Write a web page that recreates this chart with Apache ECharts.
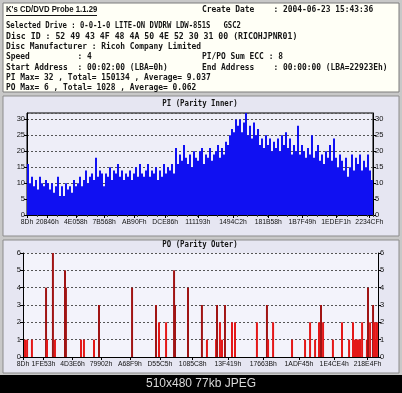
<!DOCTYPE html>
<html>
<head>
<meta charset="utf-8">
<title>K's CD/DVD Probe 1.1.29</title>
<script src="https://cdn.jsdelivr.net/npm/echarts@6/dist/echarts.min.js"></script>
<style>
html, body { margin: 0; padding: 0; background: #c8c8c8; }
#chart { width: 402px; height: 393px; }
</style>
</head>
<body>
<div id="chart"></div>
<script>
// PI (Parity Inner), one value for every ~2px column of the scan
var piValues = [
  16, 10, 12, 9, 11,   8, 12, 10, 9, 11,   10, 8, 10, 7, 9,   12, 6, 9, 6, 10,
  8, 9, 7, 11, 9,      10, 12, 9, 11, 14,  10, 12, 13, 11, 18, 12, 14, 13, 9, 13,
  12, 15, 11, 14, 13,  16, 12, 14, 11, 13, 12, 14, 11, 13, 15, 12, 16, 13, 12, 14,
  16, 12, 14, 13, 15,  11, 14, 12, 16, 13, 15, 14, 16, 13, 21, 16, 19, 17, 22, 18,
  16, 19, 15, 20, 18,  17, 20, 21, 16, 19, 18, 21, 17, 19, 20, 22, 18, 21, 19, 23,
  22, 25, 27, 26, 30,  28, 30, 26, 29, 32, 25, 28, 24, 29, 25, 27, 22, 24, 21, 25,
  22, 24, 20, 23, 21,  24, 20, 25, 22, 26, 21, 24, 19, 22, 20, 28, 19, 22, 20, 18,
  21, 19, 25, 18, 20,  22, 17, 19, 16, 20, 18, 22, 17, 24, 18, 15, 19, 17, 14, 18,
  12, 15, 19, 14, 18,  16, 19, 14, 17, 15, 19, 14, 11
];
var piTicks = [0x8D, 0x20846, 0x4E058, 0x7B568, 0xAB90F, 0xDCE86,
               0x111193, 0x1494C2, 0x181B58, 0x1B7F49, 0x1EDEF1, 0x2234CF];

// PO (Parity Outer) spikes: position in thousands of LBA, and count
var poPos = [13, 26, 57, 147, 153, 191, 204, 268, 274, 370, 389, 453, 485, 696,
             849, 868, 913, 964, 970, 1053, 1142, 1174, 1232, 1238, 1257, 1270,
             1289, 1334, 1353, 1493, 1557, 1564, 1596, 1717, 1800, 1832, 1864,
             1889, 1902, 1915, 1978, 2036, 2081, 2106, 2119, 2125, 2132, 2138,
             2144, 2151, 2164, 2195, 2202, 2215, 2234, 2240, 2246, 2253, 2259];
var poVal = [1, 1, 1, 4, 1, 6, 1, 5, 4, 1, 1, 1, 3, 4,
             3, 2, 2, 5, 3, 4, 3, 1, 1, 3, 2, 1,
             3, 2, 2, 2, 3, 1, 2, 1, 1, 2, 1,
             2, 3, 2, 1, 2, 1, 2, 1, 1, 1, 1,
             1, 1, 2, 1, 4, 2, 3, 2, 2, 1, 2];
var poTicks = [0x8D, 0x1FE53, 0x4D3E6, 0x79902, 0xA68F9, 0xD55C5,
               0x1085C8, 0x13F419, 0x17663B, 0x1ADF45, 0x1E4CE4, 0x218E4F];
var lbaEnd = 0x22923E;

var headLeft = [
  'Selected Drive : 0-0-1-0 LITE-ON DVDRW LDW-851S   GSC2',
  'Disc ID : 52 49 43 4F 48 4A 50 4E 52 30 31 00 (RICOHJPNR01)',
  'Disc Manufacturer : Ricoh Company Limited',
  'Speed          : 4',
  'Start Address  : 00:02:00 (LBA=0h)',
  'PI Max= 32 , Total= 150134 , Average= 9.037',
  'PO Max= 6 , Total= 1028 , Average= 0.062'
];
var headRows = [26, 37, 47, 57, 68, 78, 88];
// the original font is proportional; squeeze each line to its width
var headScale = [0.85, 0.965, 0.93, 0.93, 0.93, 0.93, 0.93];

var myChart = echarts.init(document.getElementById('chart'));

function hexLabel(v) {
  return v.toString(16).toUpperCase() + 'h';
}
function monoText(str, x, y, sx) {
  return {
    type: 'text', x: x, y: y, scaleX: sx || 0.93, z: 10,
    style: { text: str, font: 'bold 8.5px "DejaVu Sans Mono"', fill: '#141414',
             align: 'left', verticalAlign: 'middle', textAlign: 'left', textVerticalAlign: 'middle' }
  };
}

var els = [
  { type: 'rect', z: -10, shape: { x: 3, y: 3, width: 396, height: 89 }, style: { fill: '#fffff6', stroke: '#7c7c7c', lineWidth: 1 } },
  { type: 'rect', z: -10, shape: { x: 3, y: 96, width: 396, height: 140 }, style: { fill: '#e6e6f2', stroke: '#8c8c8c', lineWidth: 1 } },
  { type: 'rect', z: -10, shape: { x: 3, y: 240, width: 396, height: 133 }, style: { fill: '#e6e6f2', stroke: '#8c8c8c', lineWidth: 1 } },
  { type: 'rect', z: -10, shape: { x: 0, y: 375, width: 402, height: 18 }, style: { fill: '#000' } },
  { type: 'text', x: 6, y: 10, scaleX: 0.86, z: 10,
    style: { text: "K's CD/DVD Probe 1.1.29", font: 'bold 9px "Liberation Sans"', fill: '#141414',
             align: 'left', verticalAlign: 'middle', textAlign: 'left', textVerticalAlign: 'middle' } },
  { type: 'line', z: 10, shape: { x1: 6, y1: 15.5, x2: 97, y2: 15.5 }, style: { stroke: '#141414', lineWidth: 1 } },
  monoText('Create Date    : 2004-06-23 15:43:36', 202, 10),
  monoText('PI/PO Sum ECC : 8', 202, 57),
  monoText('End Address    : 00:00:00 (LBA=22923Eh)', 202, 68),
  { type: 'text', x: 200, y: 104, scaleX: 0.92, z: 10,
    style: { text: 'PI (Parity Inner)', font: 'bold 8px "DejaVu Sans Mono"', fill: '#141414',
             align: 'center', verticalAlign: 'middle', textAlign: 'center', textVerticalAlign: 'middle' } },
  { type: 'text', x: 200, y: 245, scaleX: 0.92, z: 10,
    style: { text: 'PO (Parity Outer)', font: 'bold 8px "DejaVu Sans Mono"', fill: '#141414',
             align: 'center', verticalAlign: 'middle', textAlign: 'center', textVerticalAlign: 'middle' } },
  { type: 'text', x: 201, y: 384, z: 10,
    style: { text: '510x480 77kb JPEG', font: '12px "Liberation Sans"', fill: '#d8d8d8',
             align: 'center', verticalAlign: 'middle', textAlign: 'center', textVerticalAlign: 'middle' } }
];
for (var i = 0; i < headLeft.length; i++) {
  els.push(monoText(headLeft[i], 6, headRows[i], headScale[i]));
}

var lbl = { fontFamily: 'Liberation Sans', fontSize: 7.5, color: '#111' };
var xlbl = { fontFamily: 'Liberation Sans', fontSize: 6.8, color: '#111' };
var dash = { color: '#555', type: [2, 2], width: 1 };
var black = { color: '#000', width: 1 };

var option = {
  backgroundColor: '#c8c8c8',
  animation: false,
  graphic: { elements: els },
  grid: [
    { left: 27, right: 29, top: 113, height: 102, show: true, backgroundColor: '#eeeef8', borderColor: '#000', borderWidth: 1 },
    { left: 23, right: 24, top: 253, height: 104, show: true, backgroundColor: '#f3f3fb', borderWidth: 0 }
  ],
  xAxis: [
    { type: 'category', gridIndex: 0, position: 'bottom', data: piValues.map(function (v, i) { return i; }),
      axisLine: { show: false }, axisLabel: { show: false },
      axisTick: { show: true, interval: 4, length: 2, lineStyle: { color: '#444' } }, splitLine: { show: false } },
    { type: 'value', gridIndex: 0, position: 'bottom', min: 0, max: lbaEnd,
      axisLine: { show: true, lineStyle: black },
      axisTick: { show: true, customValues: piTicks, length: 3, lineStyle: black },
      axisLabel: Object.assign({ customValues: piTicks, formatter: hexLabel, margin: 4 }, xlbl),
      splitLine: { show: false } },
    { type: 'value', gridIndex: 1, position: 'bottom', min: 0, max: lbaEnd,
      axisLine: { show: true, lineStyle: black },
      axisTick: { show: true, customValues: poTicks, length: 3, lineStyle: black },
      axisLabel: Object.assign({ customValues: poTicks, formatter: hexLabel, margin: 4 }, xlbl),
      splitLine: { show: false } }
  ],
  yAxis: [
    { type: 'value', gridIndex: 0, position: 'left', min: 0, max: 32, interval: 5,
      axisLine: { show: true, lineStyle: black }, axisTick: { show: true, length: 3, lineStyle: black },
      axisLabel: Object.assign({ showMaxLabel: false, margin: 2 }, lbl),
      splitLine: { show: true, lineStyle: dash } },
    { type: 'value', gridIndex: 0, position: 'right', min: 0, max: 32, interval: 5,
      axisLine: { show: true, lineStyle: black }, axisTick: { show: true, length: 3, lineStyle: black },
      axisLabel: Object.assign({ showMaxLabel: false, margin: 2 }, lbl),
      splitLine: { show: false } },
    { type: 'value', gridIndex: 1, position: 'left', min: 0, max: 6, interval: 1,
      axisLine: { show: true, lineStyle: black }, axisTick: { show: true, length: 3, lineStyle: black },
      axisLabel: Object.assign({ margin: 2 }, lbl),
      splitLine: { show: true, lineStyle: dash } },
    { type: 'value', gridIndex: 1, position: 'right', min: 0, max: 6, interval: 1,
      axisLine: { show: true, lineStyle: black }, axisTick: { show: true, length: 3, lineStyle: black },
      axisLabel: Object.assign({ margin: 2 }, lbl),
      splitLine: { show: false } }
  ],
  series: [
    { name: 'PI', type: 'bar', xAxisIndex: 0, yAxisIndex: 0, data: piValues,
      barCategoryGap: '0%', silent: true, itemStyle: { color: '#1010f2' } },
    { name: 'PO', type: 'bar', xAxisIndex: 2, yAxisIndex: 2, barWidth: 2, silent: true,
      data: poPos.map(function (p, i) { return [p * 1000, poVal[i]]; }),
      itemStyle: { color: function (p) { return p.value[1] >= 3 ? '#a01414' : '#e41818'; } } }
  ]
};
myChart.setOption(option);
</script>
</body>
</html>
